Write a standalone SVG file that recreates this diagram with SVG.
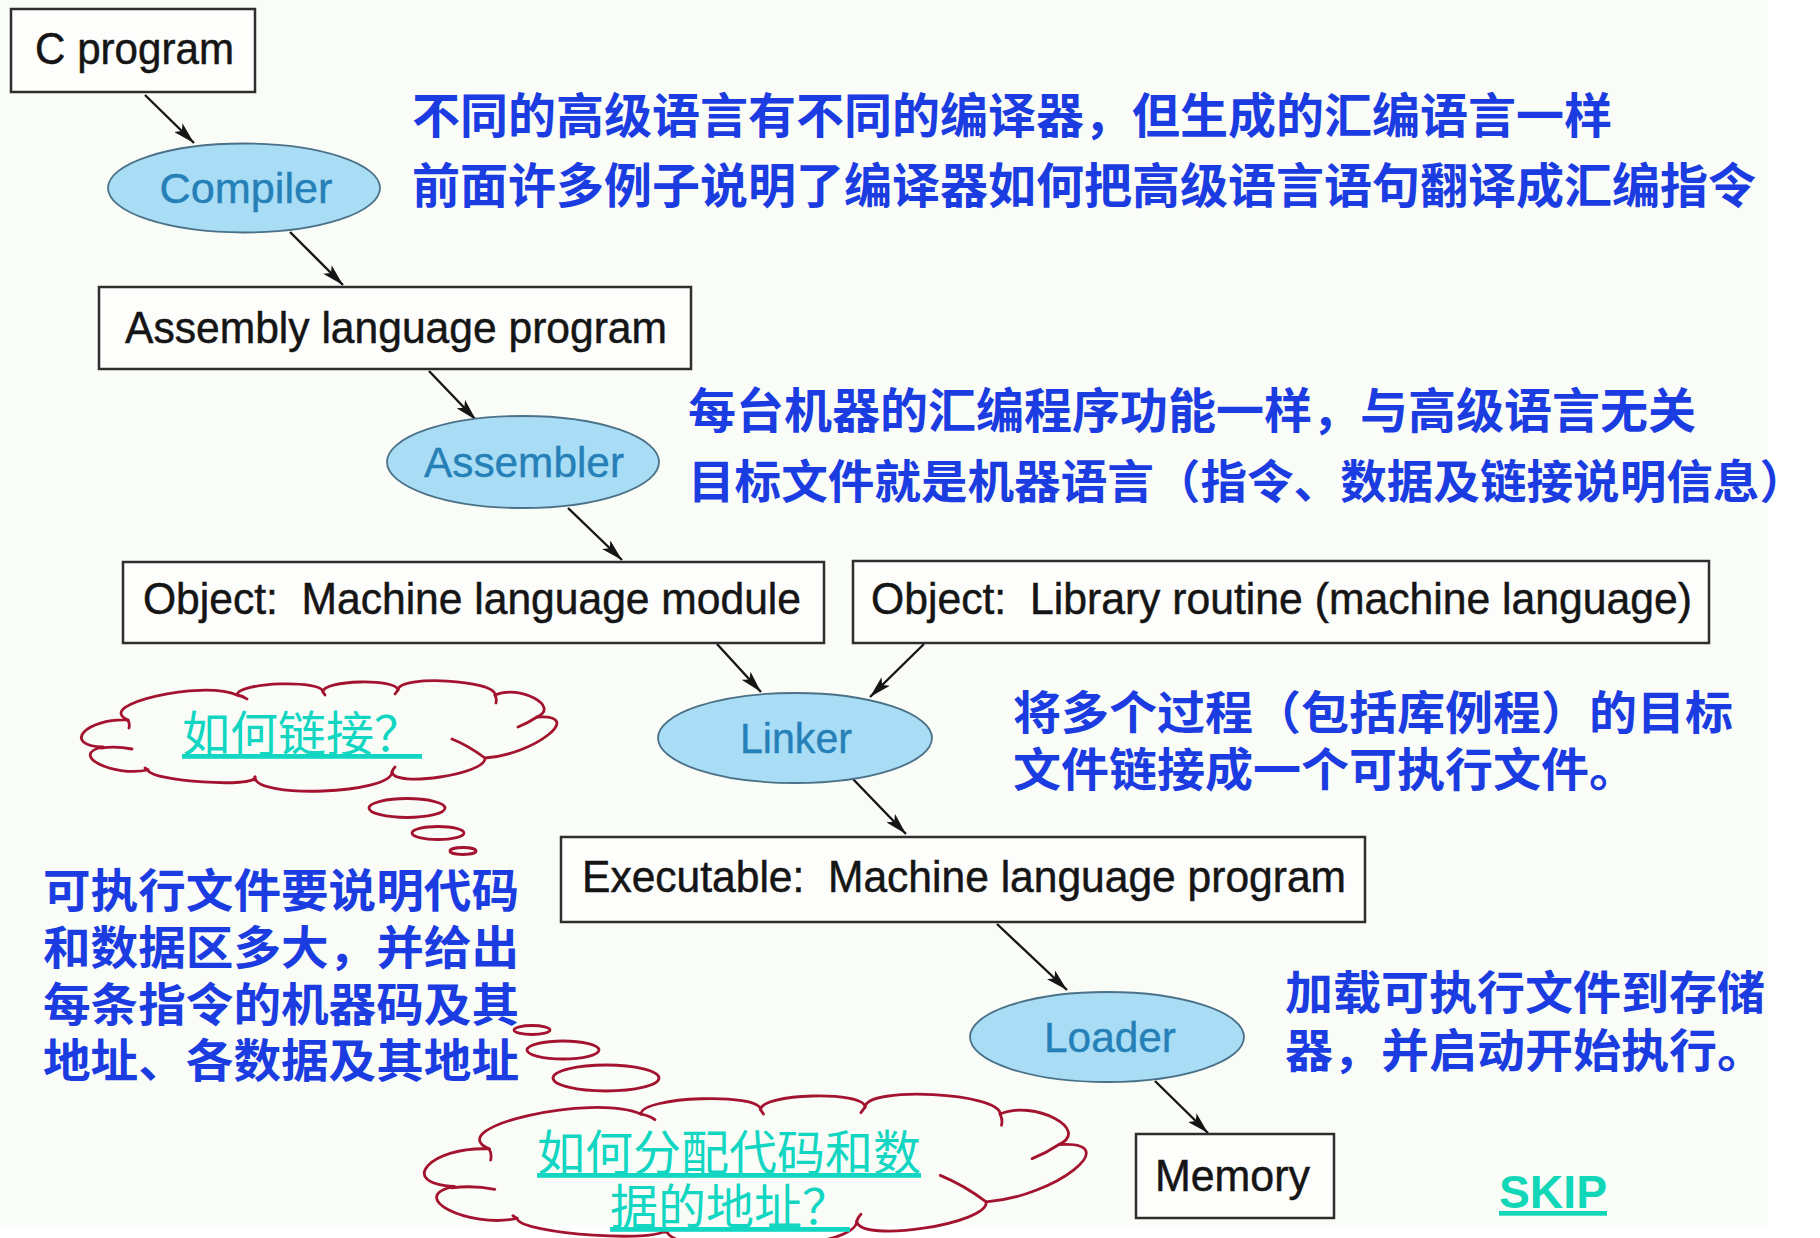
<svg xmlns="http://www.w3.org/2000/svg" xmlns:xlink="http://www.w3.org/1999/xlink" width="1820" height="1238" viewBox="0 0 1820 1238">
  <style>
    .box { fill: #fdfdfc; stroke: #2e2e2e; stroke-width: 2.5; }
    .oval { fill: #a9dcf5; stroke: #4a7188; stroke-width: 1.8; }
    .lbl { font-family: "Liberation Sans", Arial, sans-serif; font-size: 44px; fill: #151515; stroke: #151515; stroke-width: 0.5; }
    .olbl { font-family: "Liberation Sans", Arial, sans-serif; font-size: 43px; fill: #2580b8; stroke: #2580b8; stroke-width: 0.4; text-anchor: middle; }
    .note { font-family: "Noto Sans CJK SC", sans-serif; font-size: 48px; font-weight: bold; fill: #1b3ce0; }
    .note46 { font-family: "Noto Sans CJK SC", sans-serif; font-size: 46px; font-weight: bold; fill: #1b3ce0; }
    .ask { font-family: "Noto Sans CJK SC", sans-serif; font-size: 48px; fill: #12d6c2; text-decoration: underline; }
    .cloud { fill: none; stroke: #a3132f; stroke-width: 2.8; vector-effect: non-scaling-stroke; stroke-linejoin: round; }
    .tick { fill: none; stroke: #a3132f; stroke-width: 2.8; vector-effect: non-scaling-stroke; stroke-linecap: round; }
    .bub { fill: none; stroke: #a3132f; stroke-width: 2.8; }
    .edge { stroke: #151515; stroke-width: 2.4; fill: none; marker-end: url(#head); }
  </style>
  <defs>
    <marker id="head" viewBox="0 0 22 12" markerWidth="22" markerHeight="12" markerUnits="userSpaceOnUse" refX="22" refY="6" orient="auto">
      <path d="M0,0 L22,6 L0,12 L5,6 Z" fill="#151515"/>
    </marker>
    <!-- cloud outline with its inner lobe strokes, in a 464 x 109 local box -->
    <g id="cloudShape">
      <path class="cloud" d="M44,38 C2,36 -23,63 19,65 C-16.3,72.3 28.7,95.3 64,88 C66,99.3 173,106.3 171,95 C170.3,117 307.3,112 308,90 C310,106 403,92 401,76 C450.3,72.7 502.3,31.7 453,35 C477,24.3 435,2.3 411,13 C411.7,-2.3 314.7,-7.3 314,8 C313.3,-4 238.3,-2 239,10 C239,-2.7 153,0.3 153,13 C117.7,-2.3 8.7,22.7 44,38 Z"/>
      <path class="tick" d="M401,76 Q385,64 368,57 M453,35 Q444,41 434,45 M17,66 Q32,64 48,67 M44,38 Q46,42 45,46 M153,13 Q159,14 163,17 M239,10 L241,13 M314,8 L311,12 M411,13 Q413,17 412,21 M308,90 Q309,87 311,85 M171,95 L170,98 M64,88 L61,86"/>
    </g>
  </defs>

  <rect x="0" y="0" width="1820" height="1238" fill="#ffffff"/>
  <rect x="0" y="0" width="1768" height="1225" fill="#fafdf7"/>

  <!-- connectors -->
  <g id="connectors">
    <path class="edge" d="M145,95 L194,143"/>
    <path class="edge" d="M290,232 L343,285"/>
    <path class="edge" d="M429,371 L476,420"/>
    <path class="edge" d="M568,508 L622,560"/>
    <path class="edge" d="M717,644 L761,692"/>
    <path class="edge" d="M924,644 L870,697"/>
    <path class="edge" d="M852,778 L906,834"/>
    <path class="edge" d="M997,924 L1067,990"/>
    <path class="edge" d="M1155,1081 L1208,1133"/>
  </g>

  <!-- tool chain nodes -->
  <g id="c-program">
    <rect class="box" x="11" y="9" width="244" height="83"/>
    <text class="lbl" x="35" y="64" textLength="199" lengthAdjust="spacingAndGlyphs">C program</text>
  </g>
  <g id="compiler">
    <ellipse class="oval" cx="244" cy="188" rx="136" ry="44.5"/>
    <text class="olbl" x="246" y="203" textLength="173" lengthAdjust="spacingAndGlyphs">Compiler</text>
  </g>
  <g id="assembly-program">
    <rect class="box" x="99" y="287" width="592" height="82"/>
    <text class="lbl" x="125" y="343" textLength="542" lengthAdjust="spacingAndGlyphs">Assembly language program</text>
  </g>
  <g id="assembler">
    <ellipse class="oval" cx="523" cy="462" rx="136" ry="46"/>
    <text class="olbl" x="524" y="477" textLength="200" lengthAdjust="spacingAndGlyphs">Assembler</text>
  </g>
  <g id="object-module">
    <rect class="box" x="123" y="562" width="701" height="81"/>
    <text class="lbl" x="143" y="614" textLength="658" lengthAdjust="spacingAndGlyphs" xml:space="preserve">Object:  Machine language module</text>
  </g>
  <g id="object-library">
    <rect class="box" x="853" y="561" width="856" height="82"/>
    <text class="lbl" x="871" y="614" textLength="821" lengthAdjust="spacingAndGlyphs" xml:space="preserve">Object:  Library routine (machine language)</text>
  </g>
  <g id="linker">
    <ellipse class="oval" cx="795" cy="738" rx="137" ry="45"/>
    <text class="olbl" x="796" y="753" textLength="112" lengthAdjust="spacingAndGlyphs">Linker</text>
  </g>
  <g id="executable">
    <rect class="box" x="561" y="837" width="804" height="85"/>
    <text class="lbl" x="582" y="892" textLength="764" lengthAdjust="spacingAndGlyphs" xml:space="preserve">Executable:  Machine language program</text>
  </g>
  <g id="loader">
    <ellipse class="oval" cx="1107" cy="1037" rx="137" ry="45"/>
    <text class="olbl" x="1110" y="1052" textLength="132" lengthAdjust="spacingAndGlyphs">Loader</text>
  </g>
  <g id="memory">
    <rect class="box" x="1136" y="1134" width="198" height="84"/>
    <text class="lbl" x="1155" y="1191" textLength="155" lengthAdjust="spacingAndGlyphs">Memory</text>
  </g>

  <!-- explanatory notes -->
  <g id="note-compiler">
    <text class="note" x="412" y="133">不同的高级语言有不同的编译器，但生成的汇编语言一样</text>
    <text class="note" x="412" y="203">前面许多例子说明了编译器如何把高级语言语句翻译成汇编指令</text>
  </g>
  <g id="note-assembler">
    <text class="note" x="688" y="428">每台机器的汇编程序功能一样，与高级语言无关</text>
    <text class="note46" x="688" y="498" textLength="1118" lengthAdjust="spacingAndGlyphs">目标文件就是机器语言（指令、数据及链接说明信息）</text>
  </g>
  <g id="note-linker">
    <text class="note46" x="1013" y="729" textLength="720" lengthAdjust="spacingAndGlyphs">将多个过程（包括库例程）的目标</text>
    <text class="note46" x="1013" y="786" textLength="624" lengthAdjust="spacingAndGlyphs">文件链接成一个可执行文件。</text>
  </g>
  <g id="note-loader">
    <text class="note46" x="1285" y="1009" textLength="480" lengthAdjust="spacingAndGlyphs">加载可执行文件到存储</text>
    <text class="note46" x="1285" y="1067" textLength="480" lengthAdjust="spacingAndGlyphs">器，并启动开始执行。</text>
  </g>
  <g id="note-executable">
    <text class="note46" x="43" y="907" textLength="476" lengthAdjust="spacingAndGlyphs">可执行文件要说明代码</text>
    <text class="note46" x="43" y="964" textLength="476" lengthAdjust="spacingAndGlyphs">和数据区多大，并给出</text>
    <text class="note46" x="43" y="1021" textLength="476" lengthAdjust="spacingAndGlyphs">每条指令的机器码及其</text>
    <text class="note46" x="43" y="1077" textLength="476" lengthAdjust="spacingAndGlyphs">地址、各数据及其地址</text>
  </g>

  <!-- thought clouds -->
  <g id="cloud-link">
    <use xlink:href="#cloudShape" href="#cloudShape" transform="translate(84,682)"/>
    <text class="ask" x="182" y="751">如何链接？</text>
    <ellipse class="bub" cx="407" cy="808" rx="38" ry="9.5"/>
    <ellipse class="bub" cx="438" cy="833" rx="26" ry="6.5"/>
    <ellipse class="bub" cx="463" cy="851" rx="13" ry="3.5"/>
  </g>
  <g id="cloud-address">
    <ellipse class="bub" cx="532" cy="1030" rx="18" ry="4.5"/>
    <ellipse class="bub" cx="563" cy="1050" rx="36" ry="9"/>
    <ellipse class="bub" cx="606" cy="1078" rx="53" ry="13"/>
    <use xlink:href="#cloudShape" href="#cloudShape" transform="translate(428,1096) scale(1.392)"/>
    <text class="ask" x="537" y="1170">如何分配代码和数</text>
    <text class="ask" x="610" y="1224">据的地址？</text>
  </g>

  <g id="skip">
    <text x="1499" y="1208" font-family="Liberation Sans, Arial, sans-serif" font-size="47" font-weight="bold" fill="#12d6b8" text-decoration="underline" textLength="108" lengthAdjust="spacingAndGlyphs">SKIP</text>
  </g>
</svg>
